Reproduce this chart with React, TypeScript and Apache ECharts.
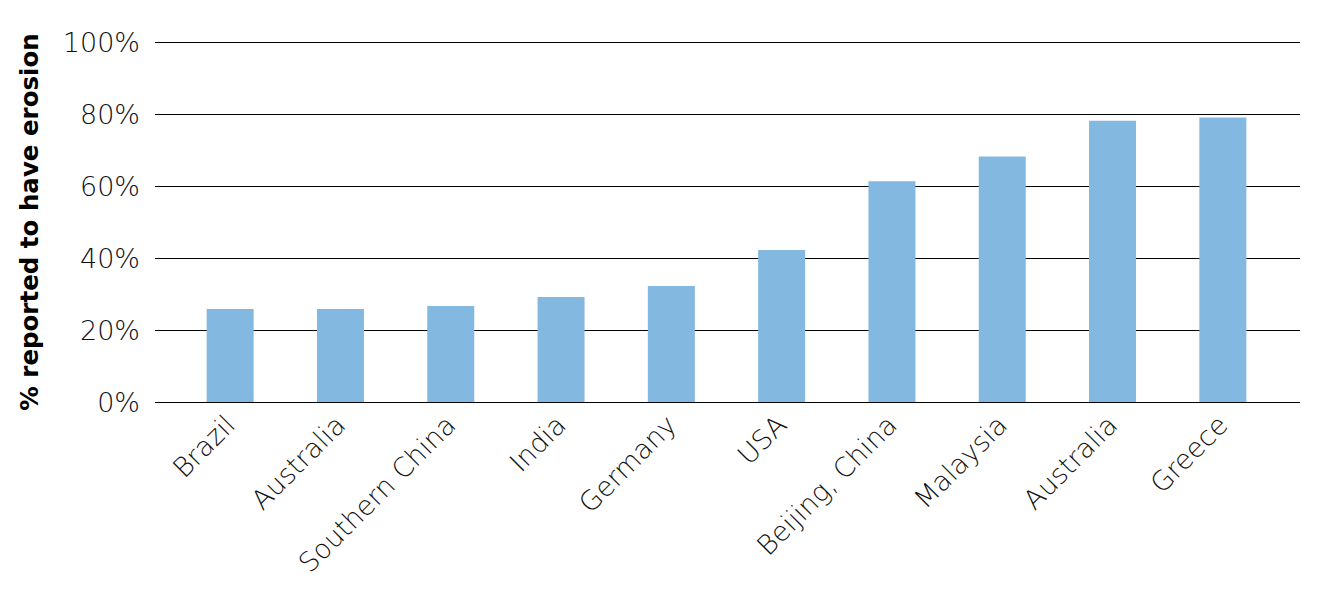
import { useEffect, useRef } from 'react';
import * as echarts from 'echarts';

// ---------------------------------------------------------------------------
// Data
// ---------------------------------------------------------------------------

const CATEGORIES = [
  'Brazil', 'Australia', 'Southern China', 'India', 'Germany',
  'USA', 'Beijing, China', 'Malaysia', 'Australia', 'Greece',
];

const EROSION_PCT = [25.8, 25.8, 26.7, 29.2, 32.2, 42.2, 61.3, 68.2, 78.1, 79.0];

const Y_TICKS = [0, 20, 40, 60, 80, 100];

const BAR_COLOR = '#83b8e1';
const TEXT_COLOR = '#111111';
const FONT = '"DejaVu Sans", sans-serif';

// ---------------------------------------------------------------------------
// Option
// ---------------------------------------------------------------------------

function buildOption(): echarts.EChartsOption {
  const yMin = Y_TICKS[0];
  const yMax = Y_TICKS[Y_TICKS.length - 1];
  const step = Y_TICKS[1] - Y_TICKS[0];

  return {
    animation: false,
    backgroundColor: '#ffffff',
    grid: [
      // gridlines + y labels span the full width
      { left: 155, right: 20, top: 42, bottom: 189 },
      // bars sit in a slightly narrower band
      { left: 175, right: 42, top: 42, bottom: 189 },
    ],
    xAxis: [
      { gridIndex: 0, type: 'category', data: CATEGORIES, show: false },
      {
        gridIndex: 1,
        type: 'category',
        data: CATEGORIES,
        axisLine: { show: false },
        axisTick: { show: false },
        axisLabel: {
          rotate: 45,
          margin: 18,
          interval: 0,
          color: TEXT_COLOR,
          fontFamily: FONT,
          fontWeight: 200,
          fontSize: 27,
        },
      },
    ],
    yAxis: [
      {
        gridIndex: 0,
        type: 'value',
        min: yMin,
        max: yMax,
        interval: step,
        name: '% reported to have erosion',
        nameLocation: 'middle',
        nameGap: 113,
        nameTextStyle: {
          color: '#000',
          fontFamily: FONT,
          fontWeight: 'bold',
          fontSize: 24.5,
        },
        axisLine: { show: false },
        axisTick: { show: false },
        axisLabel: {
          margin: 15,
          color: TEXT_COLOR,
          fontFamily: FONT,
          fontWeight: 200,
          fontSize: 27,
          formatter: (v: number) => `${v}%`,
        },
        splitLine: { show: true, lineStyle: { color: '#000', width: 1.2 } },
      },
      {
        gridIndex: 1,
        type: 'value',
        min: yMin,
        max: yMax,
        interval: step,
        show: false,
        splitLine: { show: false },
      },
    ],
    series: [
      {
        type: 'bar',
        xAxisIndex: 1,
        yAxisIndex: 1,
        data: EROSION_PCT,
        barWidth: 47,
        itemStyle: { color: BAR_COLOR },
        z: 3,
      },
    ],
  };
}

// ---------------------------------------------------------------------------
// Component
// ---------------------------------------------------------------------------

export default function App() {
  const ref = useRef<HTMLDivElement | null>(null);

  useEffect(() => {
    document.body.style.margin = '0';
    if (!ref.current) return;
    const chart = echarts.init(ref.current, undefined, { renderer: 'svg' });
    chart.setOption(buildOption());
    return () => chart.dispose();
  }, []);

  return <div ref={ref} style={{ width: 1320, height: 591 }} />;
}
